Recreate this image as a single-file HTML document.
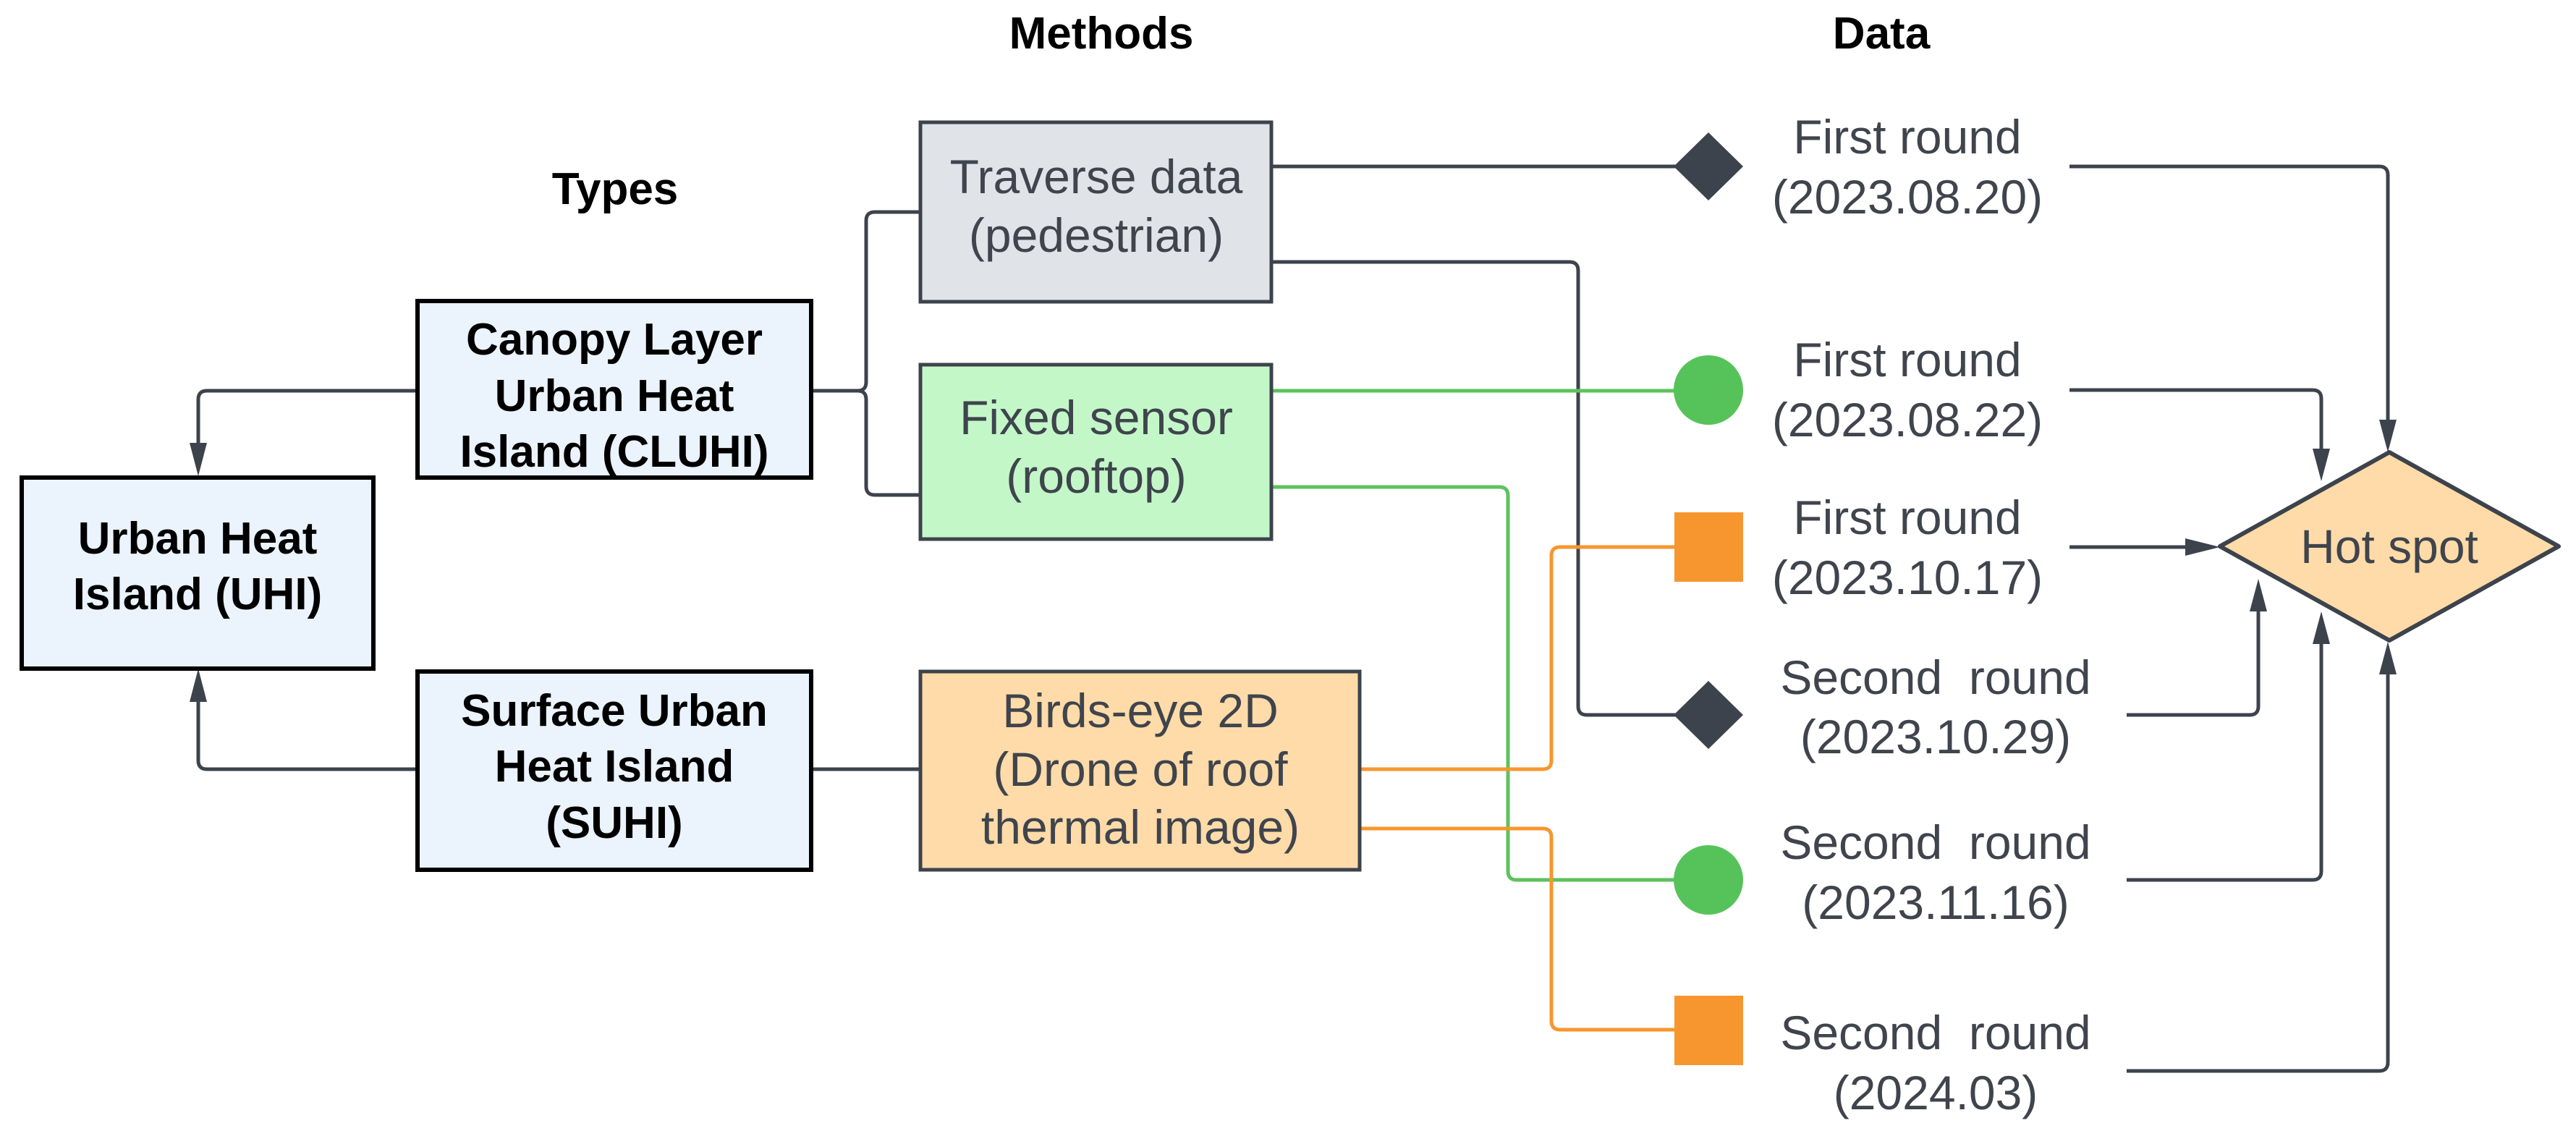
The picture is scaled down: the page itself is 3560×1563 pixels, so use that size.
<!DOCTYPE html>
<html><head><meta charset="utf-8"><style>
html,body{margin:0;padding:0;background:#fff}
svg{display:block}
text{font-family:"Liberation Sans",sans-serif}
.b{font-weight:bold;fill:#000;font-size:62px}
.m{fill:#3f444d;font-size:66px}
.d{fill:#3f444d;font-size:66px}
</style></head><body>
<svg width="3560" height="1563" viewBox="0 0 3560 1563" xmlns="http://www.w3.org/2000/svg">
<g fill="none" stroke="#3d434c" stroke-width="5">
<path d="M576,540 H286 Q274,540 274,552 V612"/>
<path d="M576,1063 H286 Q274,1063 274,1051 V970"/>
<path d="M1121,540 H1185 Q1197,540 1197,528 V305 Q1197,293 1209,293 H1271"/>
<path d="M1185,540 Q1197,540 1197,552 V672 Q1197,684 1209,684 H1271"/>
<path d="M1121,1063 H1271"/>
<path d="M1757,230 H2340"/>
<path d="M1757,362 H2169 Q2181,362 2181,374 V976 Q2181,988 2193,988 H2340"/>
<path d="M2860,230 H3288 Q3300,230 3300,242 V580"/>
<path d="M2860,539 H3196 Q3208,539 3208,551 V620"/>
<path d="M2860,756 H3020"/>
<path d="M2939,988 H3109 Q3121,988 3121,976 V845"/>
<path d="M2939,1216 H3196 Q3208,1216 3208,1204 V890"/>
<path d="M2939,1480 H3288 Q3300,1480 3300,1468 V932"/>
</g>
<g fill="#3d434c">
<path d="M274,658 L262,612 L286,612 Z"/>
<path d="M274,924 L262,970 L286,970 Z"/>
<path d="M3300,625 L3288,580 L3312,580 Z"/>
<path d="M3208,665 L3196,620 L3220,620 Z"/>
<path d="M3068,756 L3020,744 L3020,768 Z"/>
<path d="M3121,800 L3109,845 L3133,845 Z"/>
<path d="M3208,845 L3196,890 L3220,890 Z"/>
<path d="M3300,887 L3288,932 L3312,932 Z"/>
</g>
<g fill="none" stroke="#5cc25c" stroke-width="5">
<path d="M1757,540 H2330"/>
<path d="M1757,673 H2072 Q2084,673 2084,685 V1204 Q2084,1216 2096,1216 H2330"/>
</g>
<g fill="none" stroke="#f7962f" stroke-width="5">
<path d="M1879,1063 H2132 Q2144,1063 2144,1051 V768 Q2144,756 2156,756 H2320"/>
<path d="M1879,1145 H2132 Q2144,1145 2144,1157 V1411 Q2144,1423 2156,1423 H2320"/>
</g>
<path d="M2361,183 L2409,230 L2361,277 L2313,230 Z" fill="#3d434c"/>
<path d="M2361,941 L2409,988 L2361,1035 L2313,988 Z" fill="#3d434c"/>
<circle cx="2361" cy="539" r="48" fill="#56c35a"/>
<circle cx="2361" cy="1216" r="48" fill="#56c35a"/>
<rect x="2314" y="708" width="95" height="96" fill="#f7962f"/>
<rect x="2314" y="1376" width="95" height="96" fill="#f7962f"/>
<path d="M3302,625 L3536,755 L3302,885 L3068,755 Z" fill="#fedba8" stroke="#3d434c" stroke-width="6" stroke-linejoin="round"/>
<rect x="30" y="660" width="486" height="264" fill="#ebf3fd" stroke="#000" stroke-width="6"/>
<rect x="577" y="416" width="544" height="244" fill="#ebf3fd" stroke="#000" stroke-width="6"/>
<rect x="577" y="928" width="544" height="274" fill="#ebf3fd" stroke="#000" stroke-width="6"/>
<rect x="1272" y="169" width="485" height="248" fill="#e0e3e8" stroke="#3d434c" stroke-width="5"/>
<rect x="1272" y="504" width="485" height="241" fill="#c3f7c8" stroke="#3d434c" stroke-width="5"/>
<rect x="1272" y="928" width="607" height="274" fill="#fedba8" stroke="#3d434c" stroke-width="5"/>
<g text-anchor="middle">
<text class="b" x="1522" y="67">Methods</text>
<text class="b" x="2600" y="67">Data</text>
<text class="b" x="850" y="282">Types</text>
<text class="b" x="273" y="765">Urban Heat</text>
<text class="b" x="273" y="842">Island (UHI)</text>
<text class="b" x="849" y="490">Canopy Layer</text>
<text class="b" x="849" y="568">Urban Heat</text>
<text class="b" x="849" y="645">Island (CLUHI)</text>
<text class="b" x="849" y="1003">Surface Urban</text>
<text class="b" x="849" y="1080">Heat Island</text>
<text class="b" x="849" y="1158">(SUHI)</text>
<text class="m" x="1515" y="267">Traverse data</text>
<text class="m" x="1515" y="348">(pedestrian)</text>
<text class="m" x="1515" y="600">Fixed sensor</text>
<text class="m" x="1515" y="681">(rooftop)</text>
<text class="m" x="1576" y="1005">Birds-eye 2D</text>
<text class="m" x="1576" y="1086">(Drone of roof</text>
<text class="m" x="1576" y="1166">thermal image)</text>
<text class="d" x="2636" y="212">First round</text>
<text class="d" x="2636" y="295">(2023.08.20)</text>
<text class="d" x="2636" y="520">First round</text>
<text class="d" x="2636" y="603">(2023.08.22)</text>
<text class="d" x="2636" y="738">First round</text>
<text class="d" x="2636" y="821">(2023.10.17)</text>
<text class="d" x="2675" y="959" xml:space="preserve">Second  round</text>
<text class="d" x="2675" y="1041">(2023.10.29)</text>
<text class="d" x="2675" y="1187" xml:space="preserve">Second  round</text>
<text class="d" x="2675" y="1270">(2023.11.16)</text>
<text class="d" x="2675" y="1450" xml:space="preserve">Second  round</text>
<text class="d" x="2675" y="1533">(2024.03)</text>
<text class="d" x="3302" y="778">Hot spot</text>
</g>
</svg>
</body></html>
